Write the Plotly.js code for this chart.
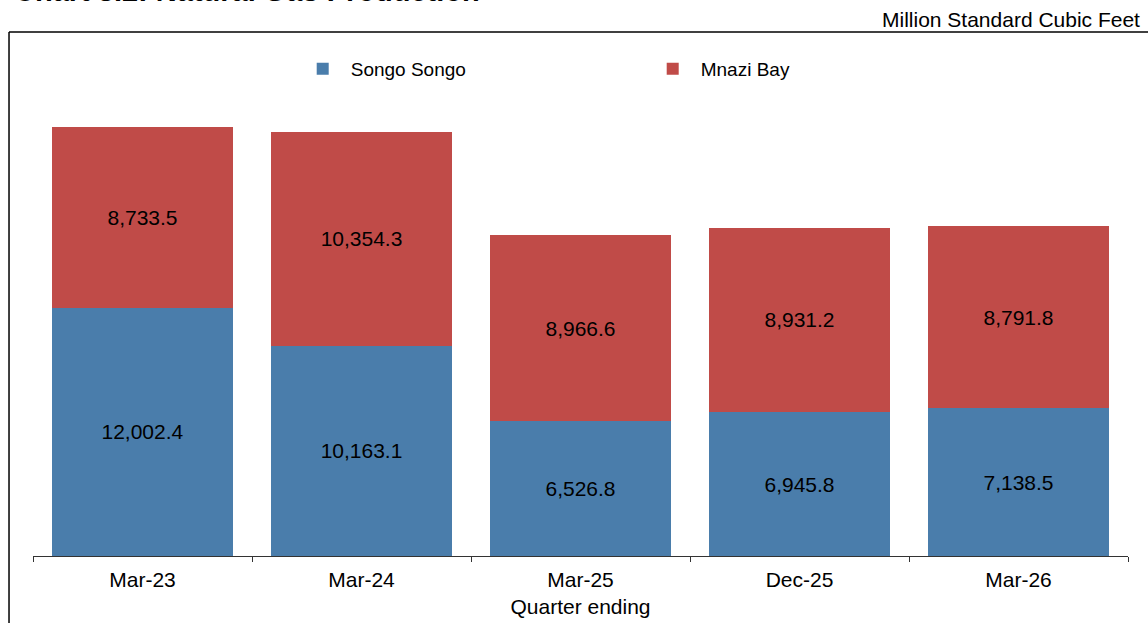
<!DOCTYPE html>
<html>
<head>
<meta charset="utf-8">
<script src="https://cdn.plot.ly/plotly-3.0.1.min.js"></script>
<style>
  html, body { margin: 0; padding: 0; background: #fff; }
  #chart { width: 1148px; height: 623px; }
</style>
</head>
<body>
<div id="chart"></div>
<script>
// Quarterly natural gas production by field (million standard cubic feet)
var quarters = ['Mar-23', 'Mar-24', 'Mar-25', 'Dec-25', 'Mar-26'];
var songoSongo = [12002.4, 10163.1, 6526.8, 6945.8, 7138.5];
var mnaziBay = [8733.5, 10354.3, 8966.6, 8931.2, 8791.8];

var chartTitle = 'Chart 3.2: Natural Gas Production';
var unitLabel = 'Million Standard Cubic Feet';
var xAxisLabel = 'Quarter ending';

var FONT = 'Liberation Sans, Arial, sans-serif';
var BLUE = '#4A7DAB';
var RED = '#C04B48';

function stackTrace(name, values, color) {
  return {
    type: 'bar',
    name: name,
    x: quarters,
    y: values,
    marker: { color: color, line: { width: 0 } },
    texttemplate: '%{y:,.1f}',
    textposition: 'inside',
    insidetextanchor: 'middle',
    constraintext: 'none',
    textfont: { family: FONT, size: 21, color: '#000' },
    hoverinfo: 'x+y+name'
  };
}

var data = [
  stackTrace('Songo Songo', songoSongo, BLUE),
  stackTrace('Mnazi Bay', mnaziBay, RED)
];

var layout = {
  width: 1148,
  height: 623,
  margin: { l: 33, r: 20, t: 59, b: 67, pad: 0 },
  paper_bgcolor: '#fff',
  plot_bgcolor: '#fff',
  barmode: 'stack',
  bargap: 0.17,
  font: { family: FONT, color: '#000' },
  showlegend: true,
  legend: {
    orientation: 'h',
    x: 0.239,
    xanchor: 'left',
    y: 0.98,
    yanchor: 'middle',
    traceorder: 'normal',
    itemwidth: 46,
    font: { family: FONT, size: 19, color: '#000' },
    entrywidth: 289,
    entrywidthmode: 'pixels',
    bgcolor: 'rgba(0,0,0,0)',
    borderwidth: 0
  },
  xaxis: {
    type: 'category',
    showgrid: false,
    zeroline: false,
    showline: true,
    linecolor: '#333',
    linewidth: 1,
    ticks: 'outside',
    tickson: 'boundaries',
    ticklen: 5,
    tickcolor: '#333',
    ticklabelstandoff: 5,
    tickfont: { family: FONT, size: 21, color: '#000' },
    title: { text: xAxisLabel, font: { family: FONT, size: 21, color: '#000' }, standoff: 9 },
    fixedrange: true
  },
  yaxis: {
    range: [0, 24022],
    visible: false,
    showgrid: false,
    zeroline: false,
    fixedrange: true
  },
  shapes: [
    // outer frame: left and top edges
    { type: 'line', xref: 'paper', yref: 'paper', x0: -0.0219, x1: -0.0219, y0: 1.0543, y1: -0.14, line: { color: '#000', width: 1.5 } },
    { type: 'line', xref: 'paper', yref: 'paper', x0: -0.0219, x1: 1.03, y0: 1.0543, y1: 1.0543, line: { color: '#000', width: 1.5 } }
  ],
  annotations: [
    {
      text: unitLabel,
      xref: 'paper', yref: 'paper',
      x: 1.0125, xanchor: 'right',
      y: 1.052, yanchor: 'bottom',
      showarrow: false,
      font: { family: FONT, size: 21, color: '#000' }
    },
    {
      text: '<b>' + chartTitle + '</b>',
      xref: 'paper', yref: 'paper',
      x: -0.019, xanchor: 'left',
      y: 1.1015, yanchor: 'bottom',
      showarrow: false,
      font: { family: FONT, size: 29, color: '#000' }
    }
  ]
};

Plotly.newPlot('chart', data, layout, { displayModeBar: false, staticPlot: true });
</script>
</body>
</html>
